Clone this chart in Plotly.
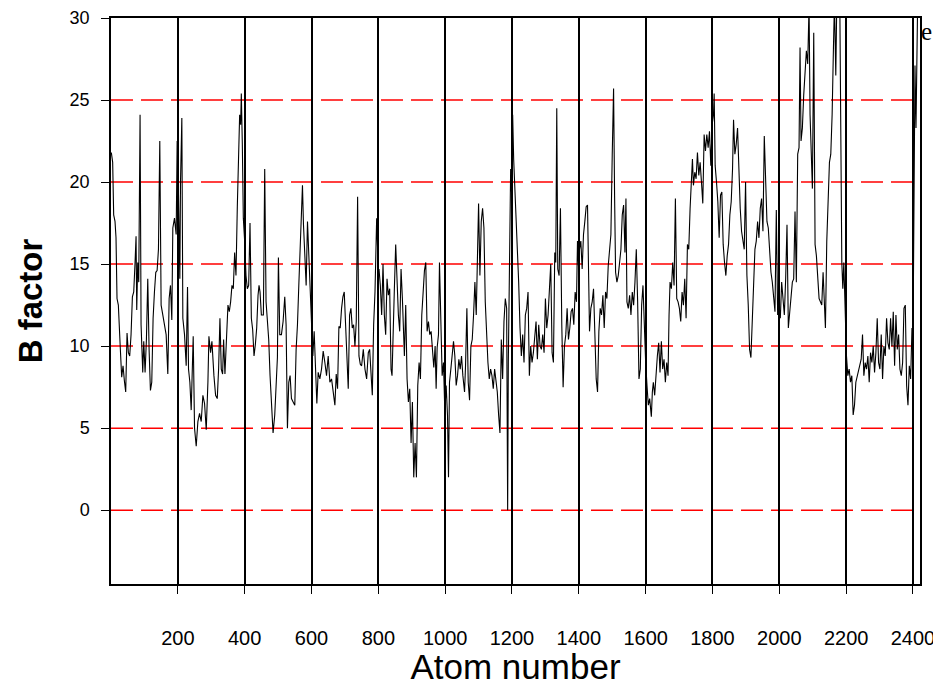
import plotly.graph_objects as go

# Atom number (x) and B factor (y)
atom_number = [
    1, 5, 8, 12, 15, 18, 22, 25, 28, 32, 36, 40, 44, 48, 52, 56, 60, 64, 68, 72,
    75, 77, 80, 83, 87, 90, 95, 98, 102, 106, 110, 114, 118, 122, 126, 130, 134, 138, 142, 146,
    150, 155, 160, 165, 170, 174, 178, 182, 185, 190, 195, 198, 202, 206, 208, 212, 215, 220, 225, 229,
    232, 236, 240, 243, 246, 250, 255, 260, 265, 270, 275, 280, 285, 290, 293, 298, 302, 308, 313, 318,
    322, 326, 330, 334, 337, 341, 346, 350, 354, 358, 362, 366, 370, 374, 378, 382, 385, 388, 390, 393,
    396, 400, 404, 408, 412, 416, 420, 424, 428, 432, 436, 440, 443, 446, 450, 456, 460, 464, 468, 472,
    476, 480, 485, 490, 495, 498, 501, 505, 510, 515, 520, 524, 528, 532, 536, 540, 545, 550, 554, 558,
    562, 566, 570, 573, 576, 580, 584, 588, 592, 596, 600, 604, 608, 612, 616, 620, 625, 630, 635, 640,
    645, 650, 655, 660, 665, 670, 674, 678, 682, 686, 690, 694, 698, 702, 706, 710, 714, 718, 722, 726,
    730, 734, 738, 742, 746, 750, 755, 760, 765, 770, 774, 778, 782, 786, 790, 795, 800,
    802, 806, 810, 814, 818, 822, 826, 830, 834, 838, 841, 845, 848, 852, 856, 860, 864, 868, 872, 878,
    882, 886, 890, 894, 898, 902, 906, 910, 914, 918, 922, 926, 930, 934, 938, 942, 946, 950, 954, 958,
    962, 966, 970, 973, 976, 980, 983, 987, 991, 995, 999, 1003, 1007, 1010, 1013, 1017, 1021, 1025, 1029, 1033,
    1037, 1041, 1045, 1049, 1053, 1058, 1061, 1065, 1069, 1073, 1077, 1081, 1085, 1089, 1093, 1097, 1100, 1104, 1108, 1112,
    1116, 1120, 1124, 1128, 1132, 1136, 1140, 1144, 1148, 1152, 1156, 1160, 1164, 1168, 1172, 1176, 1180, 1184, 1187, 1189,
    1192, 1196, 1199, 1202, 1205, 1208, 1212, 1216, 1220, 1224, 1228, 1232, 1236, 1240, 1244, 1248, 1252, 1256, 1260, 1264,
    1268, 1272, 1276, 1280, 1284, 1288, 1292, 1296, 1300, 1304, 1308, 1312, 1316, 1320, 1324, 1328, 1331, 1334, 1337, 1341,
    1345, 1349, 1353, 1357, 1361, 1365, 1369, 1373, 1377, 1381, 1385, 1389, 1393, 1396, 1399, 1402, 1406, 1410, 1414, 1418,
    1422, 1426, 1429, 1432, 1436, 1440, 1444, 1448, 1452, 1456, 1460, 1464, 1468, 1472, 1476, 1480, 1484, 1488, 1492, 1496,
    1500, 1504, 1507, 1510, 1514, 1518, 1522, 1526, 1530, 1534, 1538, 1541, 1544, 1548, 1552, 1556, 1560, 1564, 1568, 1572,
    1576, 1580, 1584, 1588, 1592, 1596, 1600, 1604, 1608, 1612,
    1617, 1620, 1623, 1627, 1631, 1635, 1639, 1643, 1647, 1651, 1655, 1659, 1663, 1667, 1670, 1673, 1677, 1681, 1685, 1689,
    1693, 1697, 1701, 1705, 1709, 1713, 1717, 1721, 1725, 1729, 1733, 1737, 1740, 1743, 1747, 1751, 1755, 1759, 1763, 1767,
    1771, 1775, 1779, 1783, 1787, 1791, 1795, 1799, 1803, 1805, 1808, 1812, 1816, 1820, 1824, 1828, 1832, 1836, 1840, 1844,
    1848, 1852, 1856, 1860, 1863, 1867, 1871, 1875, 1879, 1883, 1887, 1891, 1895, 1899, 1903, 1907, 1911, 1915, 1919, 1923,
    1927, 1931, 1935, 1939, 1943, 1947, 1951, 1955, 1959, 1963, 1967, 1971, 1975, 1979, 1983, 1987, 1991, 1995, 1999, 2003,
    2007, 2011, 2015, 2019, 2023, 2027, 2031, 2035, 2039, 2043, 2047, 2051, 2055, 2059, 2062, 2065, 2069, 2073, 2077, 2081,
    2085, 2089, 2092, 2096, 2099, 2103, 2107, 2111, 2115, 2119, 2123, 2127, 2131, 2135, 2138, 2142, 2146, 2150, 2154, 2158,
    2162, 2165, 2169, 2172, 2177, 2181, 2187, 2190, 2193, 2197, 2201, 2205, 2209, 2213, 2217, 2221, 2225, 2229, 2233, 2237,
    2241, 2245, 2249, 2253, 2257, 2261, 2265, 2269, 2273, 2277, 2281, 2285, 2289, 2293, 2297, 2301, 2305, 2309, 2313, 2317,
    2321, 2325, 2329, 2333, 2337, 2341, 2345, 2349, 2353, 2357, 2361, 2365, 2369, 2373, 2377, 2381, 2385, 2389, 2393, 2397,
    2400, 2403, 2406, 2409, 2412, 2414,
]

b_factor = [
    21.8, 21.2, 18.0, 17.6, 16.6, 12.9, 12.5, 11.5, 9.8, 8.1, 8.8, 7.9, 7.2, 10.8, 9.6, 9.4, 10.7, 13.0, 13.3, 15.1,
    16.7, 12.2, 15.1, 13.9, 24.1, 11.3, 8.4, 10.3, 8.4, 10.4, 14.1, 9.8, 7.3, 7.8, 11.7, 13.3, 14.5, 14.6, 15.9, 22.5,
    12.5, 11.9, 11.3, 10.7, 8.3, 12.9, 13.7, 11.6, 17.2, 17.8, 16.8, 22.5, 19.2, 14.1, 20.0, 23.9, 11.7, 10.7, 8.8, 13.6,
    8.6, 7.8, 6.1, 8.2, 10.6, 5.0, 3.9, 5.4, 5.9, 5.4, 7.0, 6.5, 4.9, 7.8, 10.6, 9.6, 10.3, 8.2, 7.0, 6.8,
    8.6, 11.7, 8.6, 8.3, 10.4, 8.3, 11.1, 12.5, 12.1, 12.7, 13.7, 13.5, 15.7, 14.3, 18.5, 21.9, 24.1, 23.5, 25.4, 22.3,
    17.8, 16.4, 14.3, 13.5, 13.7, 17.5, 11.7, 11.0, 9.4, 10.1, 11.1, 13.1, 13.7, 13.3, 11.9, 11.9, 20.8, 12.7, 11.3, 10.4,
    8.2, 6.8, 4.7, 5.8, 8.8, 9.3, 15.4, 10.7, 10.7, 11.5, 13.0, 11.3, 5.0, 7.8, 8.2, 6.8, 6.6, 6.4, 9.8, 11.3,
    13.7, 16.1, 18.3, 19.8, 17.4, 15.5, 13.7, 17.6, 15.5, 13.3, 11.9, 9.4, 10.9, 8.2, 6.5, 8.4, 8.0, 8.6, 9.7, 9.0,
    8.2, 9.4, 7.8, 8.0, 7.2, 6.4, 8.3, 7.4, 11.2, 11.1, 12.3, 13.0, 13.3, 11.5, 9.8, 7.4, 11.9, 12.3, 11.1, 11.3,
    10.0, 11.5, 19.1, 9.4, 8.9, 8.8, 9.8, 8.6, 8.0, 9.6, 9.8, 8.6, 7.0, 11.3, 13.3, 17.8, 14.5,
    14.7, 13.7, 11.9, 15.0, 11.9, 10.7, 14.1, 13.1, 13.5, 8.6, 8.2, 12.5, 13.5, 16.2, 13.5, 11.9, 10.9, 14.7, 12.9, 9.4,
    12.5, 8.0, 6.6, 7.4, 4.1, 6.6, 2.0, 4.1, 2.0, 7.6, 9.0, 8.0, 11.9, 13.3, 14.6, 15.1, 10.9, 11.5, 10.7, 10.9,
    9.8, 8.7, 10.0, 7.4, 9.9, 10.7, 15.1, 11.5, 8.2, 9.0, 6.0, 7.6, 5.8, 2.0, 7.8, 8.6, 9.6, 10.3, 9.4, 7.6,
    8.2, 9.2, 8.6, 9.4, 8.2, 7.2, 8.8, 12.3, 7.8, 6.7, 10.0, 10.4, 11.9, 13.9, 11.9, 17.2, 18.7, 14.3, 17.6, 18.4,
    17.2, 12.7, 10.7, 9.0, 8.0, 8.6, 8.2, 7.4, 8.6, 7.8, 7.2, 5.8, 4.7, 10.4, 8.0, 11.5, 12.9, 12.3, 0.0, 9.0,
    15.1, 20.8, 19.2, 24.1, 21.4, 20.0, 18.0, 15.5, 13.9, 11.1, 9.4, 10.7, 9.0, 11.9, 12.3, 13.3, 8.2, 10.0, 9.0, 9.6,
    10.4, 11.5, 9.2, 11.3, 10.0, 9.8, 10.7, 9.6, 12.9, 11.1, 11.9, 13.5, 15.0, 9.6, 9.0, 15.7, 15.1, 24.5, 14.7, 14.3,
    18.4, 11.3, 7.5, 10.0, 10.7, 12.3, 10.4, 11.1, 12.1, 12.3, 11.3, 13.3, 12.7, 16.4, 14.9, 15.9, 16.4, 14.7, 16.8, 17.6,
    18.5, 18.6, 14.3, 10.9, 12.3, 12.7, 13.5, 10.2, 8.0, 7.2, 10.9, 12.3, 11.9, 13.1, 11.1, 13.3, 12.9, 14.9, 15.9, 16.8,
    21.7, 25.7, 19.2, 14.5, 13.9, 14.3, 15.1, 15.9, 18.0, 18.6, 15.7, 19.0, 12.7, 12.3, 13.1, 11.9, 13.3, 12.5, 13.9, 15.9,
    12.7, 8.0, 8.6, 12.5, 13.7, 10.7, 9.0, 7.6, 6.4, 6.8,
    5.7, 7.2, 7.8, 7.0, 8.6, 9.4, 10.2, 8.4, 10.3, 8.6, 9.2, 7.8, 9.0, 8.2, 11.9, 13.9, 13.5, 15.1, 13.7, 19.0,
    12.9, 12.7, 12.3, 11.5, 13.3, 12.5, 14.1, 11.7, 16.2, 15.9, 18.4, 19.8, 21.4, 19.8, 20.6, 20.2, 21.8, 20.4, 21.2, 20.0,
    18.7, 22.9, 21.9, 22.9, 22.1, 23.1, 21.0, 23.5, 24.1, 25.4, 21.0, 20.0, 18.8, 16.6, 19.2, 19.4, 16.2, 15.1, 14.3, 15.5,
    16.2, 18.0, 18.8, 20.8, 23.8, 21.7, 22.3, 23.3, 20.4, 18.4, 17.0, 16.4, 15.9, 20.0, 14.3, 12.5, 9.8, 9.3, 11.5, 12.7,
    15.9, 16.4, 17.6, 16.6, 18.4, 19.0, 17.0, 22.8, 19.6, 17.6, 17.2, 15.5, 14.5, 13.9, 12.7, 12.1, 18.3, 11.9, 12.5, 11.7,
    13.9, 12.7, 11.9, 14.1, 17.4, 11.1, 11.9, 12.7, 13.9, 14.1, 18.2, 13.9, 21.7, 22.1, 28.2, 22.5, 23.3, 25.3, 26.5, 28.0,
    27.2, 30.8, 24.1, 21.7, 19.6, 29.1, 16.2, 15.5, 13.9, 12.9, 12.7, 12.5, 14.5, 11.9, 11.1, 16.4, 19.2, 21.2, 21.7, 24.1,
    28.2, 31.0, 26.5, 31.0, 31.0, 31.0, 15.1, 13.5, 15.1, 11.9, 9.4, 8.2, 8.6, 7.8, 8.2, 5.8, 6.4, 7.8, 8.2, 8.6,
    8.8, 9.2, 10.7, 8.2, 9.0, 8.6, 9.4, 7.8, 9.6, 9.0, 10.0, 8.4, 9.6, 11.7, 9.0, 8.6, 10.7, 8.0, 10.0, 9.4,
    11.7, 10.2, 9.8, 11.7, 10.0, 12.1, 8.8, 11.9, 9.8, 10.7, 8.6, 8.2, 9.0, 12.3, 12.5, 7.6, 6.4, 8.8, 8.0, 11.1,
    10.2, 16.8, 27.1, 23.3, 31.0, 31.0,
]

x_ticks = [200, 400, 600, 800, 1000, 1200, 1400, 1600, 1800, 2000, 2200, 2400]
y_ticks = [0, 5, 10, 15, 20, 25, 30]
ref_lines = [0, 5, 10, 15, 20, 25]

fig = go.Figure()

for v in ref_lines:
    fig.add_shape(type="line", xref="paper", yref="y", x0=0, x1=1, y0=v, y1=v,
                  line=dict(color="#ff0000", width=1.5, dash="22px,8px"), layer="below")

fig.add_trace(go.Scatter(x=atom_number, y=b_factor, mode="lines",
                         line=dict(color="black", width=1.1), showlegend=False,
                         hoverinfo="skip"))

fig.add_annotation(text="e", xref="paper", yref="paper", x=1.0, y=1.0,
                   xanchor="left", yanchor="top", xshift=-1, yshift=2, showarrow=False,
                   font=dict(family="Liberation Serif, Times New Roman, serif", size=25, color="black"))

# the page body adds an 8px offset; figure is sized so the plot area lands at x 111-920, y 18-584
fig.update_layout(
    width=933, height=678,
    margin=dict(l=103, r=21, t=10, b=102, autoexpand=False),
    paper_bgcolor="white", plot_bgcolor="white",
    font=dict(family="Liberation Sans, Arial, sans-serif", color="black"),
    xaxis=dict(
        range=[0, 2421], tickvals=x_ticks, ticktext=[str(t) for t in x_ticks],
        showgrid=True, gridcolor="black", gridwidth=1.5,
        showline=True, linecolor="black", linewidth=1.5, mirror=True,
        ticks="outside", ticklen=8, tickwidth=1, tickcolor="black",
        tickfont=dict(size=20), ticklabelstandoff=27,
        zeroline=False, automargin=False,
        title=dict(text="Atom number", font=dict(size=35), standoff=6),
    ),
    yaxis=dict(
        range=[-4.5, 30], tickvals=y_ticks, ticktext=[str(t) for t in y_ticks],
        showgrid=False,
        showline=True, linecolor="black", linewidth=1.5, mirror=True,
        ticks="outside", ticklen=8, tickwidth=1, tickcolor="black",
        tickfont=dict(size=18), ticklabelstandoff=8,
        zeroline=False, automargin=False,
        title=dict(text="<b>B factor</b>", font=dict(size=33), standoff=17),
    ),
)

fig.write_html("out.html")
